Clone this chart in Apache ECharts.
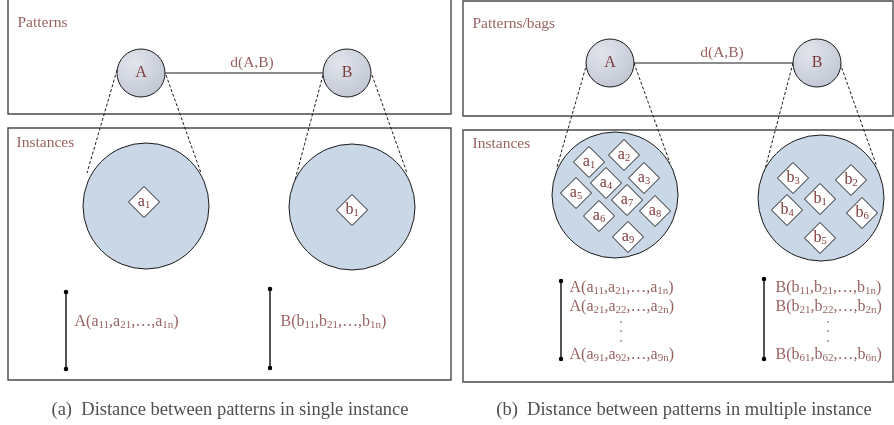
<!DOCTYPE html>
<html><head><meta charset="utf-8">
<script src="https://cdn.jsdelivr.net/npm/echarts@6/dist/echarts.min.js"></script>
<style>html,body{margin:0;padding:0;background:#fff}#c{width:894px;height:425px}</style>
</head><body><div id="c"></div>
<script>
// ---- diagram data (positions in the 894x425 drawing space) ----
const frames = [[8,-1,451,114],[8,128,451,380],[463,1,893,116],[463,130,893,382]];
const frameTitles = [['Patterns',17,23],['Instances',16,143],['Patterns/bags',472,24],['Instances',472,144]];
const patternNodes = [['A',141,73],['B',347,73],['A',610,63],['B',817,63]];
const distanceLinks = [[165,73,323,73],[634,63,793,63]];
const distanceLabels = [['d(A,B)',252,63],['d(A,B)',722,53]];
const instanceSets = [[146,206],[352,207],[615,195],[821,198]];
const zoomLines = [[117,70,87,173],[166,75,201,173],[323,75,295,180],[372,75,407,173],
                   [587,63,557,167],[634,63,670,163],[793,63,764,173],[840,63,877,167]];
const instances = [
  ['a','1',144,202],['b','1',352,210],
  ['a','1',589,162],['a','2',624,155],['a','3',644,178],['a','4',606,183],['a','5',576,193],
  ['a','6',599,216],['a','7',627,200],['a','8',655,211],['a','9',628,237],
  ['b','1',820,199],['b','2',851,180],['b','3',793,178],['b','4',787,210],['b','5',820,238],['b','6',862,213]
];
const vectorBars = [[66,292,66,369],[270,289,270,368],[561,281,561,359],[764,279,764,359]];
const vectorLabels = [
  ['A','a',['11','21','1n'],74,322],
  ['B','b',['11','21','1n'],280,322],
  ['A','a',['11','21','1n'],569,288],
  ['A','a',['21','22','2n'],569,307],
  ['A','a',['91','92','9n'],569,355],
  ['B','b',['11','21','1n'],775,288],
  ['B','b',['21','22','2n'],775,307],
  ['B','b',['61','62','6n'],775,355]
];
const ellipsisDots = [[621,322],[621,331],[621,341],[828,322],[828,331],[828,341]];
const captions = [['(a)  Distance between patterns in single instance',230,410],
                  ['(b)  Distance between patterns in multiple instance',684,410]];

// ---- styles ----
const SERIF = "'Liberation Serif','Times New Roman',serif";
const TXT = '#7d3a3a';
const LINE = '#1a1a1a';

const chart = echarts.init(document.getElementById('c'), null, {renderer:'canvas'});

function segSeries(data, style, z){
  return {
    type:'custom', coordinateSystem:'cartesian2d', clip:false, silent:true, z:z,
    data: data,
    renderItem: function(params, api){
      const p1 = api.coord([api.value(0), api.value(1)]);
      const p2 = api.coord([api.value(2), api.value(3)]);
      return {type:'line', shape:{x1:p1[0],y1:p1[1],x2:p2[0],y2:p2[1]}, style: style};
    }
  };
}

function sub(main, s, big, small){
  return '{' + big + '|' + main + '}{' + small + '|' + s + '}';
}
function vecText(v){
  const [P, c, idx] = v;
  return '{m|' + P + '(}' + sub(c, idx[0], 'm', 's') + '{m|,}' + sub(c, idx[1], 'm', 's') +
         '{m|,…,}' + sub(c, idx[2], 'm', 's') + '{m|)}';
}

const textScatter = (data, label, z) => ({
  type:'scatter', silent:true, z:z, symbolSize:1, itemStyle:{color:'rgba(0,0,0,0)'},
  data: data, label: Object.assign({show:true, fontFamily:SERIF}, label)
});

const option = {
  animation:false,
  grid:{left:0,right:0,top:0,bottom:0},
  xAxis:{type:'value', min:0, max:894, show:false},
  yAxis:{type:'value', min:0, max:425, inverse:true, show:false},
  series:[
    // frames
    {
      type:'custom', coordinateSystem:'cartesian2d', clip:false, silent:true, z:1,
      data: frames,
      renderItem: function(params, api){
        const a = api.coord([api.value(0), api.value(1)]);
        const b = api.coord([api.value(2), api.value(3)]);
        return {type:'rect', shape:{x:a[0], y:a[1], width:b[0]-a[0], height:b[1]-a[1]},
                style:{fill:'none', stroke:'#4a4a4a', lineWidth:1.4}};
      }
    },
    segSeries(zoomLines, {stroke:LINE, lineWidth:1, lineDash:[3,2]}, 2),
    segSeries(distanceLinks, {stroke:LINE, lineWidth:1.2}, 2),
    segSeries(vectorBars, {stroke:LINE, lineWidth:1.5}, 2),
    // big instance circles
    {
      type:'scatter', silent:true, z:3, symbol:'circle', symbolSize:126,
      data: instanceSets.map(d => ({value:d})),
      itemStyle:{color:'#c9d7e6', borderColor:LINE, borderWidth:1, opacity:1}
    },
    // pattern nodes
    {
      type:'scatter', silent:true, z:3, symbol:'circle', symbolSize:48,
      data: patternNodes.map(d => ({name:d[0], value:[d[1], d[2]]})),
      itemStyle:{
        color:{type:'radial', x:0.35, y:0.3, r:0.85,
               colorStops:[{offset:0,color:'#e2e5ec'},{offset:1,color:'#bcc2d0'}]},
        borderColor:LINE, borderWidth:1, opacity:1
      },
      label:{show:true, position:'inside', formatter:'{b}', color:TXT, fontFamily:SERIF, fontSize:16}
    },
    // instance diamonds
    {
      type:'scatter', silent:true, z:4, symbol:'diamond', symbolSize:31,
      data: instances.map(d => ({name:d[0], sub:d[1], value:[d[2], d[3]]})),
      itemStyle:{color:'#ffffff', borderColor:LINE, borderWidth:1, opacity:1},
      label:{
        show:true, position:'inside', color:TXT, fontFamily:SERIF,
        formatter: p => sub(p.data.name, p.data.sub, 'm', 's'),
        rich:{
          m:{fontSize:16, lineHeight:17, color:TXT, fontFamily:SERIF},
          s:{fontSize:10.5, lineHeight:9, verticalAlign:'bottom', color:TXT, fontFamily:SERIF}
        }
      }
    },
    // bar end dots
    {
      type:'scatter', silent:true, z:5, symbol:'circle', symbolSize:4.5,
      data: vectorBars.flatMap(b => [[b[0], b[1]], [b[2], b[3]]]),
      itemStyle:{color:'#000', opacity:1}
    },
    // ellipsis dots
    {
      type:'scatter', silent:true, z:5, symbol:'circle', symbolSize:1.6,
      data: ellipsisDots, itemStyle:{color:TXT, opacity:1}
    },
    // frame titles
    textScatter(frameTitles.map(d => ({name:d[0], value:[d[1], d[2]]})),
      {position:'right', distance:0, formatter:'{b}', color:TXT, fontSize:15.5}, 6),
    // distance labels
    textScatter(distanceLabels.map(d => ({name:d[0], value:[d[1], d[2]]})),
      {position:'inside', formatter:'{b}', color:TXT, fontSize:15.5}, 6),
    // vector labels
    textScatter(vectorLabels.map(d => ({v:d, value:[d[3], d[4]]})),
      {position:'right', distance:0, color:TXT,
       formatter: p => vecText(p.data.v),
       rich:{
         m:{fontSize:16, lineHeight:18, color:TXT, fontFamily:SERIF},
         s:{fontSize:11, lineHeight:11, verticalAlign:'bottom', color:TXT, fontFamily:SERIF}
       }}, 6),
    // captions
    textScatter(captions.map(d => ({name:d[0], value:[d[1], d[2]]})),
      {position:'inside', formatter:'{b}', color:'#222', fontSize:18.5}, 6)
  ]
};
chart.setOption(option);
</script>
</body></html>
